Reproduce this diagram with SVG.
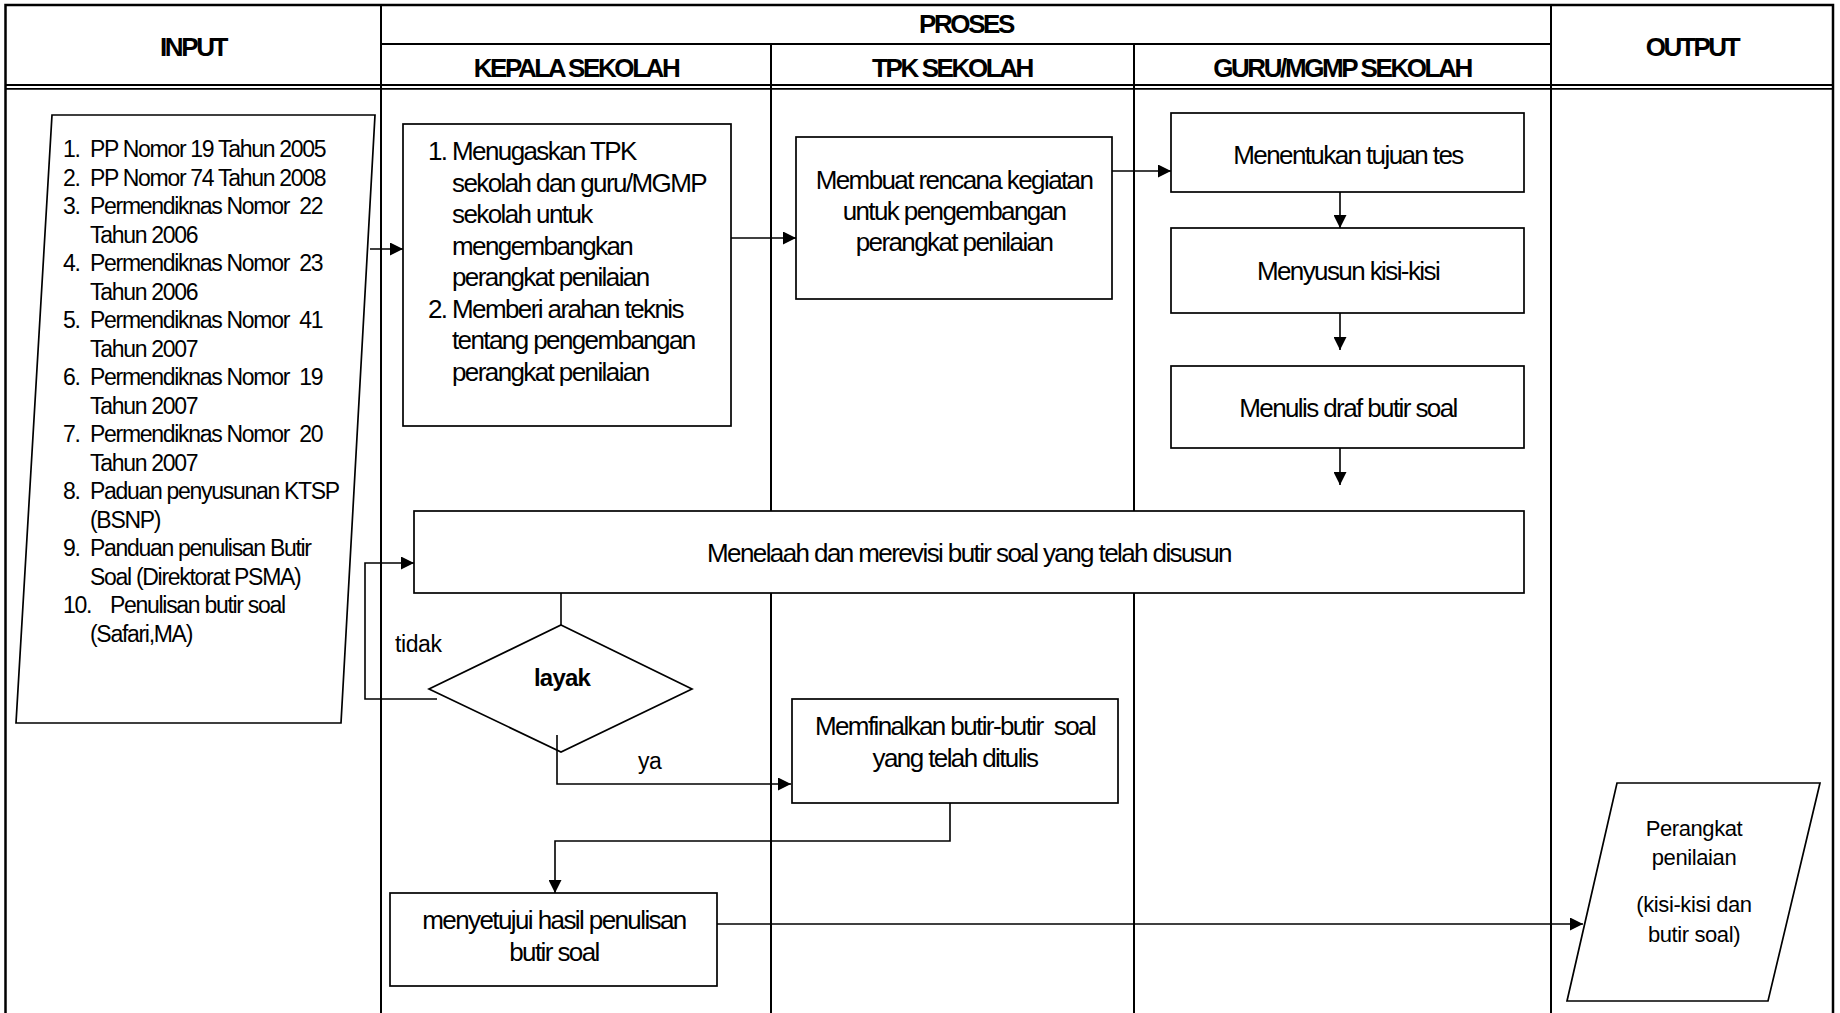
<svg xmlns="http://www.w3.org/2000/svg" width="1840" height="1013" viewBox="0 0 1840 1013">
<style>
.frame{fill:none;stroke:#000;stroke-width:2.5}
.col{stroke:#000;stroke-width:2}
.dbl{stroke:#000;stroke-width:1.8}
.box{fill:#fff;stroke:#000;stroke-width:1.7}
.conn{fill:none;stroke:#000;stroke-width:1.6}
text{fill:#000;font-family:"Liberation Sans",Arial,sans-serif}
.hd{font-size:26px;font-weight:bold;letter-spacing:-2.4px;text-anchor:middle}
.in{font-size:23px;letter-spacing:-1.3px}
.bx{font-size:26px;letter-spacing:-1.6px}
.c{text-anchor:middle}
.out{font-size:22px;letter-spacing:-0.4px;text-anchor:middle}
.lbl{font-size:23px;letter-spacing:-0.4px}
.dec{font-size:24px;font-weight:bold;letter-spacing:-0.8px;text-anchor:middle}
</style>
<defs>
<marker id="ah" markerUnits="userSpaceOnUse" markerWidth="13" markerHeight="13" refX="13" refY="6.5" orient="auto">
<path d="M0,0 L13,6.5 L0,13 z" fill="#000"/>
</marker>
</defs>
<rect width="1840" height="1013" fill="#fff"/>
<g id="table">
<rect class="frame" x="5.5" y="5" width="1827.5" height="1030"/>
<line class="col" x1="381" y1="5" x2="381" y2="1013"/>
<line class="col" x1="1551" y1="5" x2="1551" y2="1013"/>
<line class="col" x1="381" y1="44" x2="1551" y2="44"/>
<line class="col" x1="771" y1="44" x2="771" y2="1013"/>
<line class="col" x1="1134" y1="44" x2="1134" y2="1013"/>
<line class="dbl" x1="5" y1="85" x2="1834" y2="85"/>
<line class="dbl" x1="5" y1="88.8" x2="1834" y2="88.8"/>
<text class="hd" x="193" y="56">INPUT</text>
<text class="hd" x="966" y="33">PROSES</text>
<text class="hd" x="576" y="77">KEPALA SEKOLAH</text>
<text class="hd" x="952" y="77">TPK SEKOLAH</text>
<text class="hd" x="1342" y="77">GURU/MGMP SEKOLAH</text>
<text class="hd" x="1692" y="56">OUTPUT</text>
</g>
<g id="input">
<polygon class="box" points="52,115 375,115 341,723 16,723"/>
<text class="in" x="63" y="157">1.</text><text class="in" x="90" y="157">PP Nomor 19 Tahun 2005</text>
<text class="in" x="63" y="185.5">2.</text><text class="in" x="90" y="185.5">PP Nomor 74 Tahun 2008</text>
<text class="in" x="63" y="214">3.</text><text class="in" x="90" y="214">Permendiknas Nomor&#160; 22</text>
<text class="in" x="90" y="242.5">Tahun 2006</text>
<text class="in" x="63" y="271">4.</text><text class="in" x="90" y="271">Permendiknas Nomor&#160; 23</text>
<text class="in" x="90" y="299.5">Tahun 2006</text>
<text class="in" x="63" y="328">5.</text><text class="in" x="90" y="328">Permendiknas Nomor&#160; 41</text>
<text class="in" x="90" y="356.5">Tahun 2007</text>
<text class="in" x="63" y="385">6.</text><text class="in" x="90" y="385">Permendiknas Nomor&#160; 19</text>
<text class="in" x="90" y="413.5">Tahun 2007</text>
<text class="in" x="63" y="442">7.</text><text class="in" x="90" y="442">Permendiknas Nomor&#160; 20</text>
<text class="in" x="90" y="470.5">Tahun 2007</text>
<text class="in" x="63" y="499">8.</text><text class="in" x="90" y="499">Paduan penyusunan KTSP</text>
<text class="in" x="90" y="527.5">(BSNP)</text>
<text class="in" x="63" y="556">9.</text><text class="in" x="90" y="556">Panduan penulisan Butir</text>
<text class="in" x="90" y="584.5">Soal (Direktorat PSMA)</text>
<text class="in" x="63" y="613">10.</text><text class="in" x="110" y="613">Penulisan butir soal</text>
<text class="in" x="90" y="641.5">(Safari,MA)</text>
</g>
<g id="kepala-tugas">
<rect class="box" x="403" y="124" width="328" height="302"/>
<text class="bx" x="428" y="160">1.</text><text class="bx" x="452" y="160">Menugaskan TPK</text>
<text class="bx" x="452" y="191.5">sekolah dan guru/MGMP</text>
<text class="bx" x="452" y="223">sekolah untuk</text>
<text class="bx" x="452" y="254.5">mengembangkan</text>
<text class="bx" x="452" y="286">perangkat penilaian</text>
<text class="bx" x="428" y="317.5">2.</text><text class="bx" x="452" y="317.5">Memberi arahan teknis</text>
<text class="bx" x="452" y="349">tentang pengembangan</text>
<text class="bx" x="452" y="380.5">perangkat penilaian</text>
</g>
<g id="tpk-rencana">
<rect class="box" x="796" y="137" width="316" height="162"/>
<text class="bx c" x="954" y="189">Membuat rencana kegiatan</text>
<text class="bx c" x="954" y="220">untuk pengembangan</text>
<text class="bx c" x="954" y="251">perangkat penilaian</text>
</g>
<g id="guru-tujuan">
<rect class="box" x="1171" y="113" width="353" height="79"/>
<text class="bx c" x="1348" y="164">Menentukan tujuan tes</text>
</g>
<g id="guru-kisi">
<rect class="box" x="1171" y="228" width="353" height="85"/>
<text class="bx c" x="1348" y="280">Menyusun kisi-kisi</text>
</g>
<g id="guru-draf">
<rect class="box" x="1171" y="366" width="353" height="82"/>
<text class="bx c" x="1348" y="417">Menulis draf butir soal</text>
</g>
<g id="telaah">
<rect class="box" x="414" y="511" width="1110" height="82"/>
<text class="bx c" x="969" y="562">Menelaah dan merevisi butir soal yang telah disusun</text>
</g>
<g id="layak">
<polygon class="box" points="561,625 692,689 561,752 429,689"/>
<text class="dec" x="562" y="686">layak</text>
</g>
<g id="finalisasi">
<rect class="box" x="792" y="699" width="326" height="104"/>
<text class="bx c" x="955" y="735">Memfinalkan butir-butir&#160; soal</text>
<text class="bx c" x="955" y="767">yang telah ditulis</text>
</g>
<g id="persetujuan">
<rect class="box" x="390" y="893" width="327" height="93"/>
<text class="bx c" x="554" y="929">menyetujui hasil penulisan</text>
<text class="bx c" x="554" y="961">butir soal</text>
</g>
<g id="output">
<polygon class="box" points="1617,783 1820,783 1768,1001 1567,1001"/>
<text class="out" x="1694" y="836">Perangkat</text>
<text class="out" x="1694" y="865">penilaian</text>
<text class="out" x="1694" y="912">(kisi-kisi dan</text>
<text class="out" x="1694" y="942">butir soal)</text>
</g>
<g id="connectors">
<line class="conn" x1="370" y1="249" x2="403" y2="249" marker-end="url(#ah)"/>
<line class="conn" x1="731" y1="238" x2="796" y2="238" marker-end="url(#ah)"/>
<line class="conn" x1="1112" y1="171" x2="1171" y2="171" marker-end="url(#ah)"/>
<line class="conn" x1="1340" y1="192" x2="1340" y2="228" marker-end="url(#ah)"/>
<line class="conn" x1="1340" y1="313" x2="1340" y2="350" marker-end="url(#ah)"/>
<line class="conn" x1="1340" y1="448" x2="1340" y2="485" marker-end="url(#ah)"/>
<line class="conn" x1="561" y1="593" x2="561" y2="625"/>
<polyline class="conn" points="437,699 365,699 365,563 414,563" marker-end="url(#ah)"/>
<polyline class="conn" points="557,735 557,784 791,784" marker-end="url(#ah)"/>
<polyline class="conn" points="950,803 950,841 555,841 555,893" marker-end="url(#ah)"/>
<line class="conn" x1="717" y1="924" x2="1583" y2="924" marker-end="url(#ah)"/>
<text class="lbl" x="395" y="652">tidak</text>
<text class="lbl" x="638" y="769">ya</text>
</g>
</svg>
